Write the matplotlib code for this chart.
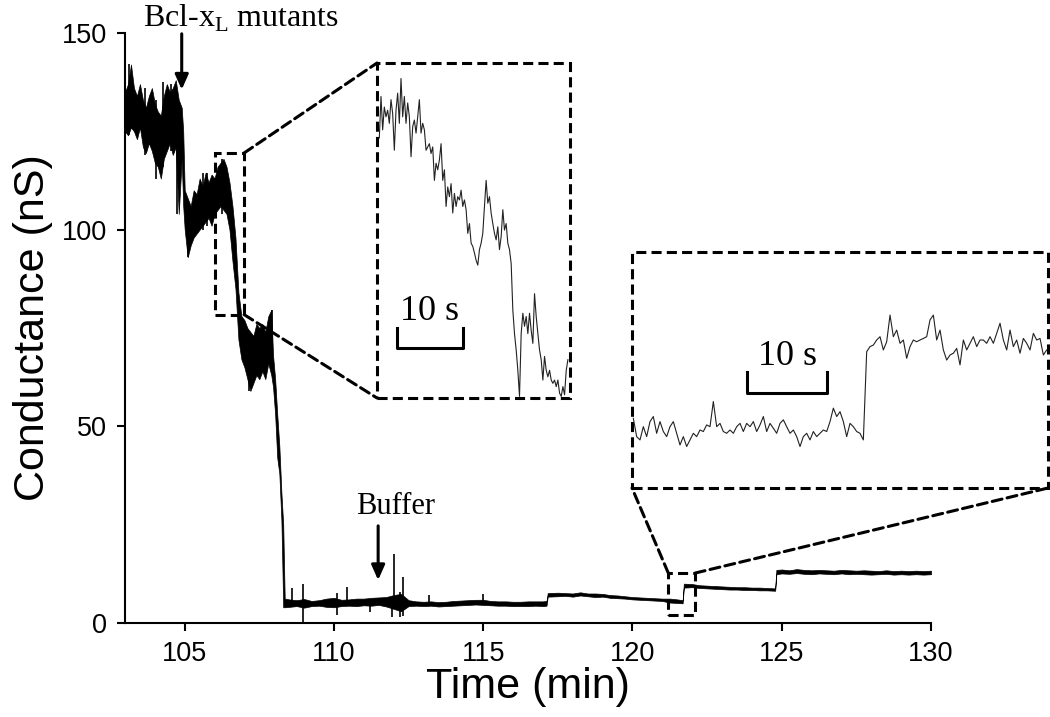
import numpy as np
import matplotlib.pyplot as plt
from matplotlib.patches import Rectangle, ConnectionPatch

# main trace, read as a min / max band (time in min, conductance in nS)
time_min = [103.00, 103.10, 103.20, 103.30, 103.40, 103.50, 103.60, 103.70, 103.80, 103.90,
            104.00, 104.10, 104.20, 104.30, 104.40, 104.50, 104.60, 104.70, 104.80, 104.90,
            104.95, 105.00, 105.10, 105.20, 105.30, 105.40, 105.50, 105.60, 105.70, 105.80,
            105.90, 106.00, 106.10, 106.20, 106.30, 106.40, 106.50, 106.60, 106.70, 106.80,
            106.90, 107.00, 107.10, 107.20, 107.30, 107.40, 107.50, 107.60, 107.70, 107.80,
            107.90, 107.96, 108.03, 108.10, 108.17, 108.24, 108.30, 108.35, 108.50, 108.75,
            109.00, 109.25, 109.50, 109.75, 110.00, 110.25, 110.50, 110.75, 111.00, 111.25,
            111.50, 111.75, 112.00, 112.25, 112.50, 112.75, 113.00, 113.25, 113.50, 113.75,
            114.00, 114.25, 114.50, 114.75, 115.00, 115.25, 115.50, 115.75, 116.00, 116.25,
            116.50, 116.75, 117.00, 117.12, 117.16, 117.50, 117.75, 118.00, 118.25, 118.50,
            118.75, 119.00, 119.25, 119.50, 119.75, 120.00, 120.25, 120.50, 120.75, 121.00,
            121.25, 121.50, 121.68, 121.72, 122.00, 122.25, 122.50, 122.75, 123.00, 123.25,
            123.50, 123.75, 124.00, 124.25, 124.50, 124.78, 124.82, 125.00, 125.25, 125.50,
            125.75, 126.00, 126.25, 126.50, 126.75, 127.00, 127.25, 127.50, 127.75, 128.00,
            128.25, 128.50, 128.75, 129.00, 129.25, 129.50, 129.75, 130.00]
g_low = [125, 124, 126, 125, 123, 126, 121, 119.5, 122, 120,
         117, 116, 113, 118, 120, 122, 119, 121, 104, 118,
         106, 100, 93, 96, 98, 99, 100, 101, 102, 103,
         101, 104, 105, 106, 105, 104, 100, 92, 85, 72,
         67, 65, 62, 59, 61, 63, 62, 64, 62, 66,
         63, 60, 53, 42, 38, 26, 4, 4.0, 4.1, 4.3,
         3.9, 4.3, 4.4, 4.1, 4.0, 4.3, 4.4, 4.3, 4.5, 4.4,
         4.6, 4.2, 3.6, 3.0, 4.3, 4.4, 4.3, 4.4, 4.2, 4.3,
         4.4, 4.5, 4.6, 4.7, 4.6, 4.5, 4.4, 4.4, 4.3, 4.3,
         4.3, 4.4, 4.3, 4.4, 6.7, 6.8, 6.9, 6.7, 7.0, 6.8,
         6.6, 6.7, 6.4, 6.3, 6.2, 6.0, 5.9, 5.8, 5.7, 5.6,
         5.2, 5.1, 5.0, 9.0, 9.1, 8.9, 8.8, 8.7, 8.6, 8.5,
         8.5, 8.4, 8.4, 8.3, 8.3, 8.2, 12.4, 12.6, 12.5, 12.7,
         12.5, 12.4, 12.6, 12.5, 12.4, 12.6, 12.4, 12.5, 12.4, 12.3,
         12.4, 12.5, 12.3, 12.4, 12.3, 12.4, 12.3, 12.4]
g_high = [135, 137, 142, 136, 134, 137, 133, 131, 134, 136,
          132, 130, 129, 134, 137, 135, 136, 138, 133, 131,
          125, 110, 108, 106, 110, 109, 113, 111, 114.5, 112,
          114, 113, 116, 117, 118, 116, 112, 106, 98, 84,
          78, 77, 75, 74, 73, 76, 75, 76, 74, 78,
          79.6, 68, 62, 53, 45, 33, 25, 6.2, 6.0, 5.8,
          6.1, 5.6, 5.8, 6.2, 6.4, 5.9, 6.0, 6.2, 6.2, 6.4,
          6.5, 6.6, 7.1, 7.4, 5.8, 5.5, 5.4, 5.5, 5.3, 5.4,
          5.6, 5.7, 5.8, 5.9, 5.9, 5.6, 5.5, 5.5, 5.4, 5.4,
          5.5, 5.5, 5.5, 5.6, 7.6, 7.7, 7.6, 7.5, 7.8, 7.5,
          7.5, 7.4, 7.1, 7.0, 6.8, 6.6, 6.5, 6.4, 6.3, 6.2,
          6.2, 6.0, 5.8, 10.0, 9.9, 9.6, 9.5, 9.4, 9.3, 9.2,
          9.1, 9.1, 9.0, 9.0, 8.9, 8.8, 13.5, 13.6, 13.4, 13.7,
          13.5, 13.4, 13.5, 13.4, 13.3, 13.5, 13.4, 13.3, 13.4, 13.3,
          13.2, 13.4, 13.2, 13.3, 13.2, 13.3, 13.2, 13.3]

# single spikes sticking out of the band
spike_t = [103.15, 103.68, 104.05, 104.28, 104.55, 104.75, 105.12, 105.60, 105.75, 106.25,
           107.15, 107.93, 108.60, 108.96, 110.09, 110.43, 111.21, 111.94, 112.01, 112.22,
           112.30, 113.20, 115.00]
spike_lo = [124, 119, 113, 116, 120, 104, 93, 100, 101, 104,
            59, 65, 4, 0.3, 2, 4.5, 2.8, 1.5, 4, 1.5,
            1.9, 4.5, 4.5]
spike_hi = [142, 136, 133, 137.5, 137, 128, 105, 114.5, 114.5, 118,
            72, 79.6, 9, 10, 7.7, 9.2, 5.5, 6, 17.6, 8,
            11.8, 7, 7.5]

# zoomed traces (time in s from the left edge of each inset, conductance in nS)
inset1_t0, inset1_dt = 0.35, 0.2525
inset1_g = [110.3, 115.4, 111.3, 114.1, 112.9, 113.7, 112.1, 115.0, 113.3, 108.8,
            113.7, 115.8, 112.1, 117.6, 112.9, 115.4, 112.1, 114.6, 112.9, 108.0,
            111.7, 112.5, 110.9, 112.9, 115.0, 110.9, 112.1, 111.3, 108.8, 109.2,
            109.6, 108.4, 109.2, 105.1, 107.2, 106.4, 107.6, 109.6, 105.1, 106.4,
            101.9, 104.3, 103.1, 104.7, 101.1, 103.5, 101.9, 103.1, 102.7, 103.9,
            101.9, 102.7, 101.5, 98.6, 99.8, 97.4, 97.0, 96.2, 95.3, 94.7,
            96.6, 97.4, 98.6, 101.9, 105.1, 102.3, 103.1, 101.1, 99.8, 98.6,
            97.8, 99.4, 96.6, 98.2, 101.5, 99.0, 99.8, 97.4, 96.6, 94.9,
            89.2, 86.3, 84.3, 81.8, 78.6, 86.3, 88.8, 87.2, 88.4, 86.3,
            88.8, 86.7, 85.1, 91.2, 88.4, 86.3, 84.3, 83.1, 80.6, 83.5,
            81.8, 81.0, 81.8, 80.6, 80.2, 80.6, 79.8, 80.6, 79.0, 78.6,
            79.8, 78.8, 81.8, 83.1]

inset2_t0, inset2_dt = 0.167, 0.4167
inset2_g = [5.16, 4.33, 4.18, 4.78, 4.33, 5.01, 5.24, 4.48, 5.01, 4.56,
            4.33, 4.78, 5.01, 4.48, 3.95, 4.33, 3.88, 4.18, 4.48, 4.33,
            4.63, 4.56, 4.86, 4.78, 5.92, 4.78, 4.93, 4.56, 4.48, 4.63,
            4.48, 4.78, 4.93, 4.56, 4.93, 4.78, 5.01, 4.56, 4.86, 5.24,
            4.56, 4.93, 4.71, 4.48, 4.93, 5.09, 4.78, 4.48, 4.63, 4.33,
            3.88, 4.33, 4.48, 4.18, 4.56, 4.33, 4.48, 4.63, 4.56, 5.01,
            5.62, 5.24, 5.46, 5.01, 4.33, 4.93, 4.78, 4.56, 4.48, 4.18,
            8.18, 8.41, 8.48, 8.71, 8.86, 8.26, 8.63, 9.84, 8.86, 9.16,
            8.56, 8.71, 7.88, 8.41, 8.71, 8.63, 8.71, 8.78, 8.86, 9.62,
            9.84, 8.71, 9.16, 8.26, 7.80, 8.03, 8.11, 8.33, 7.58, 8.71,
            8.26, 8.56, 8.86, 8.41, 8.71, 8.71, 8.56, 8.86, 8.56, 9.01,
            9.47, 8.71, 8.26, 9.16, 8.41, 8.71, 8.11, 8.78, 8.56, 8.26,
            9.01, 8.71, 8.78, 8.03, 8.26]

sans = ['Liberation Sans', 'DejaVu Sans']
serif = ['Liberation Serif', 'DejaVu Serif']
dash = (0, (3.3, 1.7))
dash_kw = dict(color='black', lw=2.2, linestyle=dash)

fig = plt.figure(figsize=(10.5, 7.17), dpi=100)
ax = fig.add_axes([0.11905, 0.1311, 0.76762, 0.82287])

ax.fill_between(time_min, g_low, g_high, color='black', lw=0.5)
ax.vlines(spike_t, spike_lo, spike_hi, color='black', lw=1.2)

ax.set_xlim(103, 130)
ax.set_ylim(0, 150)
ax.set_xticks([105, 110, 115, 120, 125, 130])
ax.set_yticks([0, 50, 100, 150])
for s in ['top', 'right']:
    ax.spines[s].set_visible(False)
for s in ['left', 'bottom']:
    ax.spines[s].set_linewidth(1.5)
ax.tick_params(direction='out', length=6, width=1.5, pad=7, labelsize=19.5)
for lab in ax.get_xticklabels() + ax.get_yticklabels():
    lab.set_family(sans)
ax.set_xlabel('Time (min)', family=sans, fontsize=31, labelpad=0)
ax.set_ylabel('Conductance (nS)', family=sans, fontsize=31, labelpad=6)

# arrows and labels
ax.annotate('', xy=(104.9, 134.9), xytext=(104.9, 150.5), annotation_clip=False,
            arrowprops=dict(arrowstyle='-|>,head_length=0.9,head_width=0.4',
                            color='black', lw=2.2))
ax.text(106.9, 151.6, 'Bcl-x$_\\mathregular{L}$ mutants', family=serif, fontsize=23,
        ha='center', va='baseline', clip_on=False)
ax.annotate('', xy=(111.48, 10.2), xytext=(111.48, 25.4),
            arrowprops=dict(arrowstyle='-|>,head_length=0.9,head_width=0.4',
                            color='black', lw=2.2))
ax.text(112.05, 27.7, 'Buffer', family=serif, fontsize=22, ha='center', va='baseline')

# zoom windows on the trace
box1 = (106.02, 78.4, 0.97, 41.1)
box2 = (121.2, 2.0, 0.9, 10.7)
for (x0, y0, w, h) in (box1, box2):
    ax.add_patch(Rectangle((x0, y0), w, h, fill=False, clip_on=False, **dash_kw))

ax1 = fig.add_axes([0.35905, 0.44491, 0.18381, 0.46722])
ax2 = fig.add_axes([0.60190, 0.31939, 0.39619, 0.32915])
for a in (ax1, ax2):
    a.axis('off')
    a.add_patch(Rectangle((0, 0), 1, 1, transform=a.transAxes, fill=False,
                          clip_on=False, **dash_kw))

t1 = inset1_t0 + inset1_dt * np.arange(len(inset1_g))
ax1.plot(t1, inset1_g, color='#222222', lw=0.8)
ax1.set_xlim(0, 29.2)
ax1.set_ylim(78.4, 119.5)
ax1.plot([3, 3, 13, 13], [87.0, 84.5, 84.5, 87.0], color='black', lw=2.2)
ax1.text(8, 88.0, '10 s', family=serif, fontsize=26, ha='center', va='baseline')

t2 = inset2_t0 + inset2_dt * np.arange(len(inset2_g))
ax2.plot(t2, inset2_g, color='#222222', lw=0.8)
ax2.set_xlim(0, 52)
ax2.set_ylim(2.0, 12.7)
ax2.plot([14.4, 14.4, 24.4, 24.4], [7.26, 6.31, 6.31, 7.26], color='black', lw=2.2)
ax2.text(19.4, 7.58, '10 s', family=serif, fontsize=26, ha='center', va='baseline')

# dashed leader lines from the small boxes to the insets
links = [((box1[0] + box1[2], box1[1] + box1[3]), ax1, (0, 1)),
         ((box1[0] + box1[2], box1[1]), ax1, (0, 0)),
         ((box2[0], box2[1] + box2[3]), ax2, (0, 0)),
         ((box2[0] + box2[2], box2[1] + box2[3]), ax2, (1, 0))]
for xy_a, a, xy_b in links:
    fig.add_artist(ConnectionPatch(xyA=xy_a, coordsA='data', axesA=ax,
                                   xyB=xy_b, coordsB='axes fraction', axesB=a,
                                   **dash_kw))

fig.savefig('out.png', dpi=100)
